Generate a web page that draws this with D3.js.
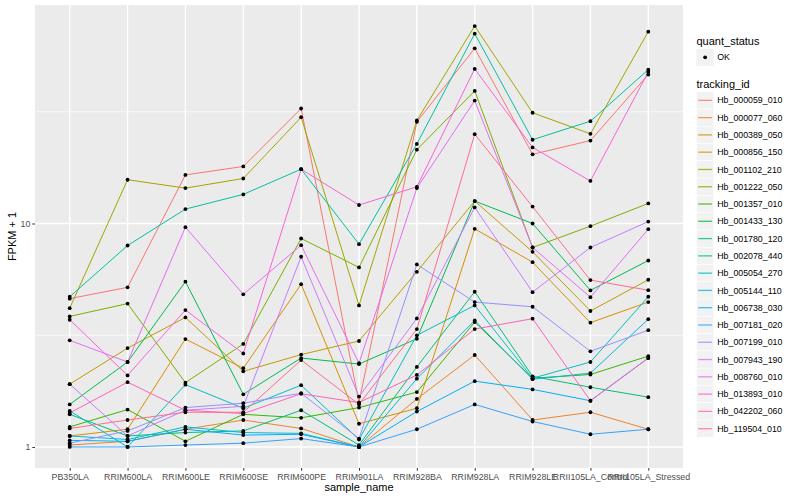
<!DOCTYPE html>
<html>
<head>
<meta charset="utf-8">
<script src="https://cdn.jsdelivr.net/npm/d3@7/dist/d3.min.js"></script>
<style>
  body { margin: 0; background: #fff; }
  text { font-family: "Liberation Sans", Arial, Helvetica, sans-serif; }
</style>
</head>
<body>
<div id="chart"></div>
<script>
// samples on the x axis
const samples = ['PB350LA', 'RRIM600LA', 'RRIM600LE', 'RRIM600SE', 'RRIM600PE', 'RRIM901LA',
  'RRIM928BA', 'RRIM928LA', 'RRIM928LE', 'RRII105LA_Control', 'RRII105LA_Stressed'];

const trackingIds = ['Hb_000059_010', 'Hb_000077_060', 'Hb_000389_050', 'Hb_000856_150', 'Hb_001102_210',
  'Hb_001222_050', 'Hb_001357_010', 'Hb_001433_130', 'Hb_001780_120', 'Hb_002078_440',
  'Hb_005054_270', 'Hb_005144_110', 'Hb_006738_030', 'Hb_007181_020', 'Hb_007199_010',
  'Hb_007943_190', 'Hb_008760_010', 'Hb_013893_010', 'Hb_042202_060', 'Hb_119504_010'];

const seriesColors = ['#F8766D', '#EA8331', '#D89000', '#C09B00', '#A3A500', '#7CAE00', '#39B600', '#00BB4E',
  '#00BF7D', '#00C1A3', '#00BFC4', '#00BAE0', '#00B0F6', '#35A2FF', '#9590FF', '#C77CFF',
  '#E76BF3', '#FA62DB', '#FF62BC', '#FF6C91'];

const quantStatus = ['OK'];

// FPKM + 1, one row per tracking id, one value per sample
const fpkm = [
  [4.61, 5.18, 16.5, 18.0, 32.7, 1.58, 28.5, 60.8, 20.4, 23.5, 46.4],
  [1.02, 1.06, 1.20, 1.32, 1.21, 1.00, 1.64, 2.58, 1.32, 1.43, 1.20],
  [1.12, 1.20, 3.04, 2.25, 5.35, 1.27, 1.49, 9.47, 6.71, 3.60, 4.45],
  [1.91, 2.77, 3.80, 2.18, 2.59, 2.98, 6.08, 12.6, 7.47, 4.06, 5.60],
  [4.18, 15.7, 14.4, 15.9, 29.9, 4.30, 28.9, 76.5, 31.3, 25.2, 72.2],
  [3.84, 4.38, 1.94, 2.89, 8.57, 6.36, 21.4, 39.2, 7.81, 9.73, 12.3],
  [1.23, 1.47, 1.06, 1.40, 1.35, 1.50, 1.76, 3.62, 2.03, 2.11, 2.55],
  [1.55, 2.40, 5.49, 1.72, 2.50, 2.35, 3.05, 12.6, 10.0, 5.02, 6.83],
  [1.40, 1.12, 1.16, 1.18, 1.46, 1.02, 2.28, 4.95, 2.07, 1.85, 1.67],
  [4.70, 7.97, 11.6, 13.5, 17.5, 8.08, 22.7, 70.7, 23.7, 28.7, 48.8],
  [1.45, 1.00, 1.90, 1.49, 1.89, 1.08, 3.16, 4.30, 2.03, 2.40, 4.70],
  [1.12, 1.08, 1.23, 1.16, 1.15, 1.00, 2.02, 3.68, 2.01, 2.14, 3.73],
  [1.07, 1.06, 1.20, 1.13, 1.14, 1.00, 1.44, 1.97, 1.81, 1.61, 2.50],
  [1.00, 1.00, 1.02, 1.04, 1.09, 1.00, 1.20, 1.55, 1.30, 1.14, 1.20],
  [1.04, 1.18, 1.50, 1.57, 1.74, 1.09, 6.56, 4.45, 4.24, 2.68, 3.33],
  [1.91, 1.12, 1.46, 1.52, 7.10, 1.68, 3.76, 11.8, 4.93, 7.81, 10.2],
  [3.00, 2.40, 9.63, 4.82, 8.00, 2.37, 14.4, 35.5, 7.81, 4.68, 9.43],
  [3.71, 2.09, 4.10, 2.62, 17.5, 12.1, 14.6, 49.2, 21.9, 15.5, 47.7],
  [1.42, 1.95, 1.46, 1.41, 1.73, 1.58, 2.10, 3.37, 3.75, 1.61, 2.50],
  [1.21, 1.32, 1.43, 1.43, 2.45, 1.55, 3.37, 25.1, 11.9, 5.58, 5.03]
];

const yBreaks = [1, 10];

const width = 800;
const height = 500;
const panel = { left: 35, right: 683, top: 5, bottom: 468 };

const svg = d3.select('#chart')
  .append('svg')
  .attr('width', width)
  .attr('height', height)
  .style('background', '#fff');

// log scale with ggplot style 5% expansion
const logExt = d3.extent(fpkm.flat()).map(Math.log10);
const pad = (logExt[1] - logExt[0]) * 0.05;
const y = d3.scaleLog()
  .domain([Math.pow(10, logExt[0] - pad), Math.pow(10, logExt[1] + pad)])
  .range([panel.bottom, panel.top]);

const x = d3.scalePoint()
  .domain(samples)
  .range([panel.left, panel.right])
  .padding(0.6);

// panel background
svg.append('rect')
  .attr('x', panel.left)
  .attr('y', panel.top)
  .attr('width', panel.right - panel.left)
  .attr('height', panel.bottom - panel.top)
  .attr('fill', '#EBEBEB');

// minor breaks halfway between majors in log space
const yMinor = [];
for (let i = -1; i < yBreaks.length; i++) {
  const lo = i < 0 ? yBreaks[0] / 10 : yBreaks[i];
  const m = Math.sqrt(lo * lo * 10);
  const [d0, d1] = y.domain();
  if (m > d0 && m < d1) yMinor.push(m);
}

const grid = svg.append('g').attr('stroke', '#fff').attr('fill', 'none');
grid.selectAll('line.minor')
  .data(yMinor)
  .enter().append('line')
  .attr('class', 'minor')
  .attr('x1', panel.left).attr('x2', panel.right)
  .attr('y1', d => y(d)).attr('y2', d => y(d))
  .attr('stroke-width', 0.7);
grid.selectAll('line.major-y')
  .data(yBreaks)
  .enter().append('line')
  .attr('class', 'major-y')
  .attr('x1', panel.left).attr('x2', panel.right)
  .attr('y1', d => y(d)).attr('y2', d => y(d))
  .attr('stroke-width', 1.4);
grid.selectAll('line.major-x')
  .data(samples)
  .enter().append('line')
  .attr('class', 'major-x')
  .attr('x1', d => x(d)).attr('x2', d => x(d))
  .attr('y1', panel.top).attr('y2', panel.bottom)
  .attr('stroke-width', 1.4);

// lines per tracking id
const line = d3.line()
  .x((d, i) => x(samples[i]))
  .y(d => y(d));

svg.append('g')
  .attr('fill', 'none')
  .attr('stroke-width', 1)
  .selectAll('path')
  .data(fpkm)
  .enter().append('path')
  .attr('stroke', (d, i) => seriesColors[i])
  .attr('d', line);

// points (quant_status = OK)
const pts = [];
fpkm.forEach(row => row.forEach((v, i) => pts.push({ s: samples[i], v: v })));
svg.append('g')
  .selectAll('circle')
  .data(pts)
  .enter().append('circle')
  .attr('cx', d => x(d.s))
  .attr('cy', d => y(d.v))
  .attr('r', 1.9)
  .attr('fill', '#000');

// axes
const yAxis = d3.axisLeft(y)
  .tickValues(yBreaks)
  .tickFormat(d3.format('d'))
  .tickSize(2.7)
  .tickPadding(2);
const yAxisG = svg.append('g')
  .attr('transform', `translate(${panel.left},0)`)
  .call(yAxis);

const xAxis = d3.axisBottom(x)
  .tickSize(2.7)
  .tickPadding(3);
const xAxisG = svg.append('g')
  .attr('transform', `translate(0,${panel.bottom})`)
  .call(xAxis);

[yAxisG, xAxisG].forEach(g => {
  g.select('.domain').remove();
  g.selectAll('.tick line').attr('stroke', '#333333');
  g.selectAll('.tick text')
    .attr('fill', '#4D4D4D')
    .style('font-size', '8.8px')
    .style('font-family', '"Liberation Sans", Arial, sans-serif');
});

// axis titles
svg.append('text')
  .attr('x', (panel.left + panel.right) / 2)
  .attr('y', 491)
  .attr('text-anchor', 'middle')
  .style('font-size', '11px')
  .attr('fill', '#000')
  .text('sample_name');

svg.append('text')
  .attr('transform', `translate(16,${(panel.top + panel.bottom) / 2}) rotate(-90)`)
  .attr('text-anchor', 'middle')
  .style('font-size', '11px')
  .attr('fill', '#000')
  .text('FPKM + 1');

// legends
const keySize = 17.28;
const legX = 696.5;

const leg1 = svg.append('g');
leg1.append('text')
  .attr('x', legX).attr('y', 44.5)
  .style('font-size', '11px')
  .text('quant_status');
const qKey = leg1.selectAll('g')
  .data(quantStatus)
  .enter().append('g')
  .attr('transform', (d, i) => `translate(${legX},${48.7 + i * keySize})`);
qKey.append('rect')
  .attr('width', keySize).attr('height', keySize)
  .attr('fill', '#F2F2F2');
qKey.append('circle')
  .attr('cx', keySize / 2).attr('cy', keySize / 2)
  .attr('r', 1.9).attr('fill', '#000');
qKey.append('text')
  .attr('x', keySize + 3.5).attr('y', keySize / 2 + 3.1)
  .style('font-size', '8.8px')
  .text(d => d);

const leg2 = svg.append('g');
leg2.append('text')
  .attr('x', legX).attr('y', 88)
  .style('font-size', '11px')
  .text('tracking_id');
const tKey = leg2.selectAll('g')
  .data(trackingIds)
  .enter().append('g')
  .attr('transform', (d, i) => `translate(${legX},${91.7 + i * keySize})`);
tKey.append('rect')
  .attr('width', keySize).attr('height', keySize)
  .attr('fill', '#F2F2F2')
  .attr('stroke', '#fff')
  .attr('stroke-width', 0.5);
tKey.append('line')
  .attr('x1', 1.7).attr('x2', keySize - 1.7)
  .attr('y1', keySize / 2).attr('y2', keySize / 2)
  .attr('stroke', (d, i) => seriesColors[i])
  .attr('stroke-width', 1.3)
  .attr('stroke-opacity', 0.8);
tKey.append('text')
  .attr('x', keySize + 3.5).attr('y', keySize / 2 + 3.1)
  .style('font-size', '8.8px')
  .text(d => d);
</script>
</body>
</html>
